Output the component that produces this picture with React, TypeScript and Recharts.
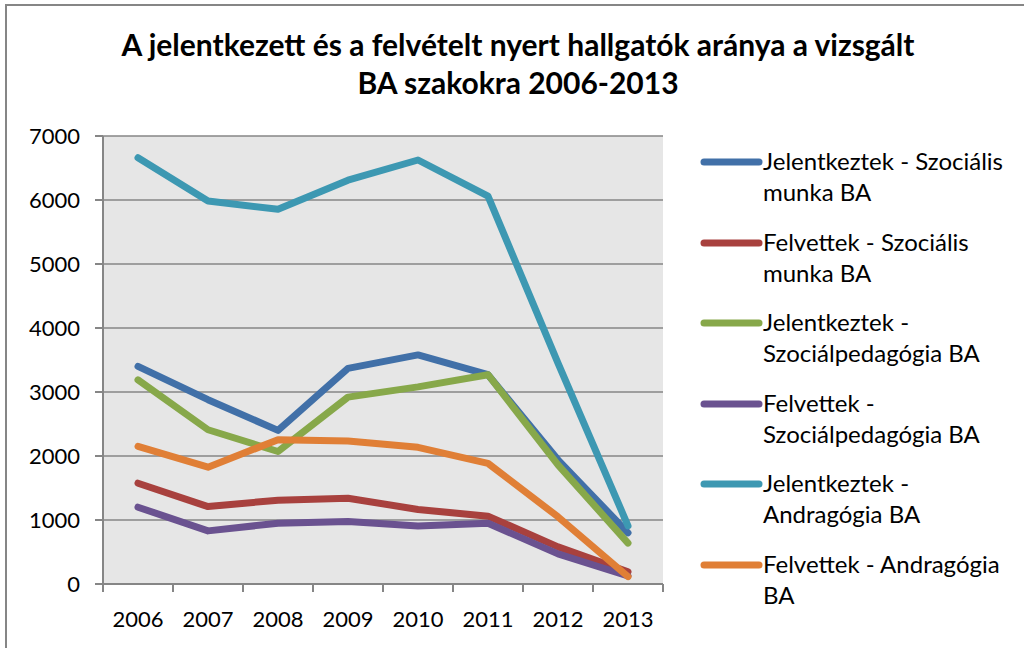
import React from "react";
import {
  LineChart,
  Line,
  XAxis,
  YAxis,
  CartesianGrid,
} from "recharts";

const years = ["2006", "2007", "2008", "2009", "2010", "2011", "2012", "2013"];

const jelSzocMunka = [3400, 2880, 2400, 3370, 3580, 3270, 1940, 800];
const felvSzocMunka = [1575, 1210, 1310, 1340, 1165, 1060, 580, 190];
const jelSzocPed = [3190, 2410, 2070, 2920, 3080, 3270, 1860, 640];
const felvSzocPed = [1200, 830, 950, 975, 905, 950, 470, 125];
const jelAndrag = [6660, 5985, 5855, 6310, 6625, 6060, 3450, 910];
const felvAndrag = [2150, 1825, 2255, 2235, 2135, 1885, 1050, 115];

const yTicks = [0, 1000, 2000, 3000, 4000, 5000, 6000, 7000];

const series = [
  { key: "s1", name: "Jelentkeztek - Szociális\nmunka BA", values: jelSzocMunka, color: "#4170a8" },
  { key: "s2", name: "Felvettek - Szociális\nmunka BA", values: felvSzocMunka, color: "#a8413e" },
  { key: "s3", name: "Jelentkeztek -\nSzociálpedagógia BA", values: jelSzocPed, color: "#87a84a" },
  { key: "s4", name: "Felvettek -\nSzociálpedagógia BA", values: felvSzocPed, color: "#6a5290" },
  { key: "s5", name: "Jelentkeztek -\nAndragógia BA", values: jelAndrag, color: "#3d98b2" },
  { key: "s6", name: "Felvettek - Andragógia\nBA", values: felvAndrag, color: "#e07f36" },
];

const data = years.map((year, i) => {
  const row: Record<string, string | number> = { year };
  series.forEach((s) => {
    row[s.key] = s.values[i];
  });
  return row;
});

const FONT = "Lato, 'Open Sans', sans-serif";
const PLOT_W = 560;
const HALF_BAND = PLOT_W / years.length / 2;

const XTick = (props: any) => {
  const { x, y, payload, index } = props;
  const isLast = index === years.length - 1;
  return (
    <g>
      <line x1={x - HALF_BAND} y1={y} x2={x - HALF_BAND} y2={y + 8} stroke="#868686" strokeWidth={2} />
      {isLast && (
        <line x1={x + HALF_BAND} y1={y} x2={x + HALF_BAND} y2={y + 8} stroke="#868686" strokeWidth={2} />
      )}
      <text x={x} y={y + 43} textAnchor="middle" fontSize={22} fontFamily={FONT} fill="#000">
        {payload.value}
      </text>
    </g>
  );
};

// legend drawn beside the chart, like Excel's right-hand legend
const ChartLegend = () => (
  <div
    style={{
      position: "absolute",
      left: 700,
      top: 145,
      fontFamily: FONT,
      fontSize: 24,
      lineHeight: "31px",
      color: "#000",
    }}
  >
    {series.map((s) => (
      <div key={s.key} style={{ display: "flex", alignItems: "flex-start", height: 80.5 }}>
        <svg width={63} height={31} style={{ flex: "none" }}>
          <line x1={4} y1={17} x2={59} y2={17} stroke={s.color} strokeWidth={7} strokeLinecap="round" />
        </svg>
        <div style={{ whiteSpace: "pre-line" }}>{s.name}</div>
      </div>
    ))}
  </div>
);

export default function App() {
  return (
    <div
      style={{
        position: "absolute",
        left: 0,
        top: 0,
        width: 1024,
        height: 648,
        background: "#fff",
        overflow: "hidden",
      }}
    >
      <div
        style={{
          position: "absolute",
          left: 5,
          top: 4,
          width: 1030,
          height: 660,
          borderTop: "2px solid #868686",
          borderLeft: "2px solid #868686",
        }}
      />
      <div
        style={{
          position: "absolute",
          left: 18,
          top: 25,
          width: 1000,
          textAlign: "center",
          fontFamily: FONT,
          fontWeight: 700,
          fontSize: 30,
          lineHeight: "38px",
          color: "#000",
        }}
      >
        A jelentkezett és a felvételt nyert hallgatók aránya a vizsgált
        <br />
        BA szakokra 2006-2013
      </div>
      <div style={{ position: "absolute", left: 0, top: 0 }}>
        <LineChart
          width={1024}
          height={648}
          data={data}
          margin={{ top: 136, right: 361, bottom: 0, left: 0 }}
        >
          <CartesianGrid
            vertical={false}
            stroke="#868686"
            strokeWidth={1.5}
            fill="#e6e6e6"
            fillOpacity={1}
          />
          <XAxis
            dataKey="year"
            height={64}
            tickSize={0}
            tickMargin={0}
            padding={{ left: HALF_BAND, right: HALF_BAND }}
            tick={<XTick />}
            axisLine={{ stroke: "#868686", strokeWidth: 2 }}
            tickLine={false}
            interval={0}
          />
          <YAxis
            width={103}
            domain={[0, 7000]}
            ticks={yTicks}
            interval={0}
            tickSize={8}
            tickMargin={15}
            tick={{ fontSize: 22, fontFamily: FONT, fill: "#000" }}
            tickLine={{ stroke: "#868686", strokeWidth: 2 }}
            axisLine={{ stroke: "#868686", strokeWidth: 2 }}
          />
          {series.map((s) => (
            <Line
              key={s.key}
              dataKey={s.key}
              name={s.name}
              stroke={s.color}
              strokeWidth={7}
              strokeLinejoin="round"
              strokeLinecap="round"
              dot={false}
              activeDot={false}
              isAnimationActive={false}
            />
          ))}
        </LineChart>
      </div>
      <ChartLegend />
    </div>
  );
}
